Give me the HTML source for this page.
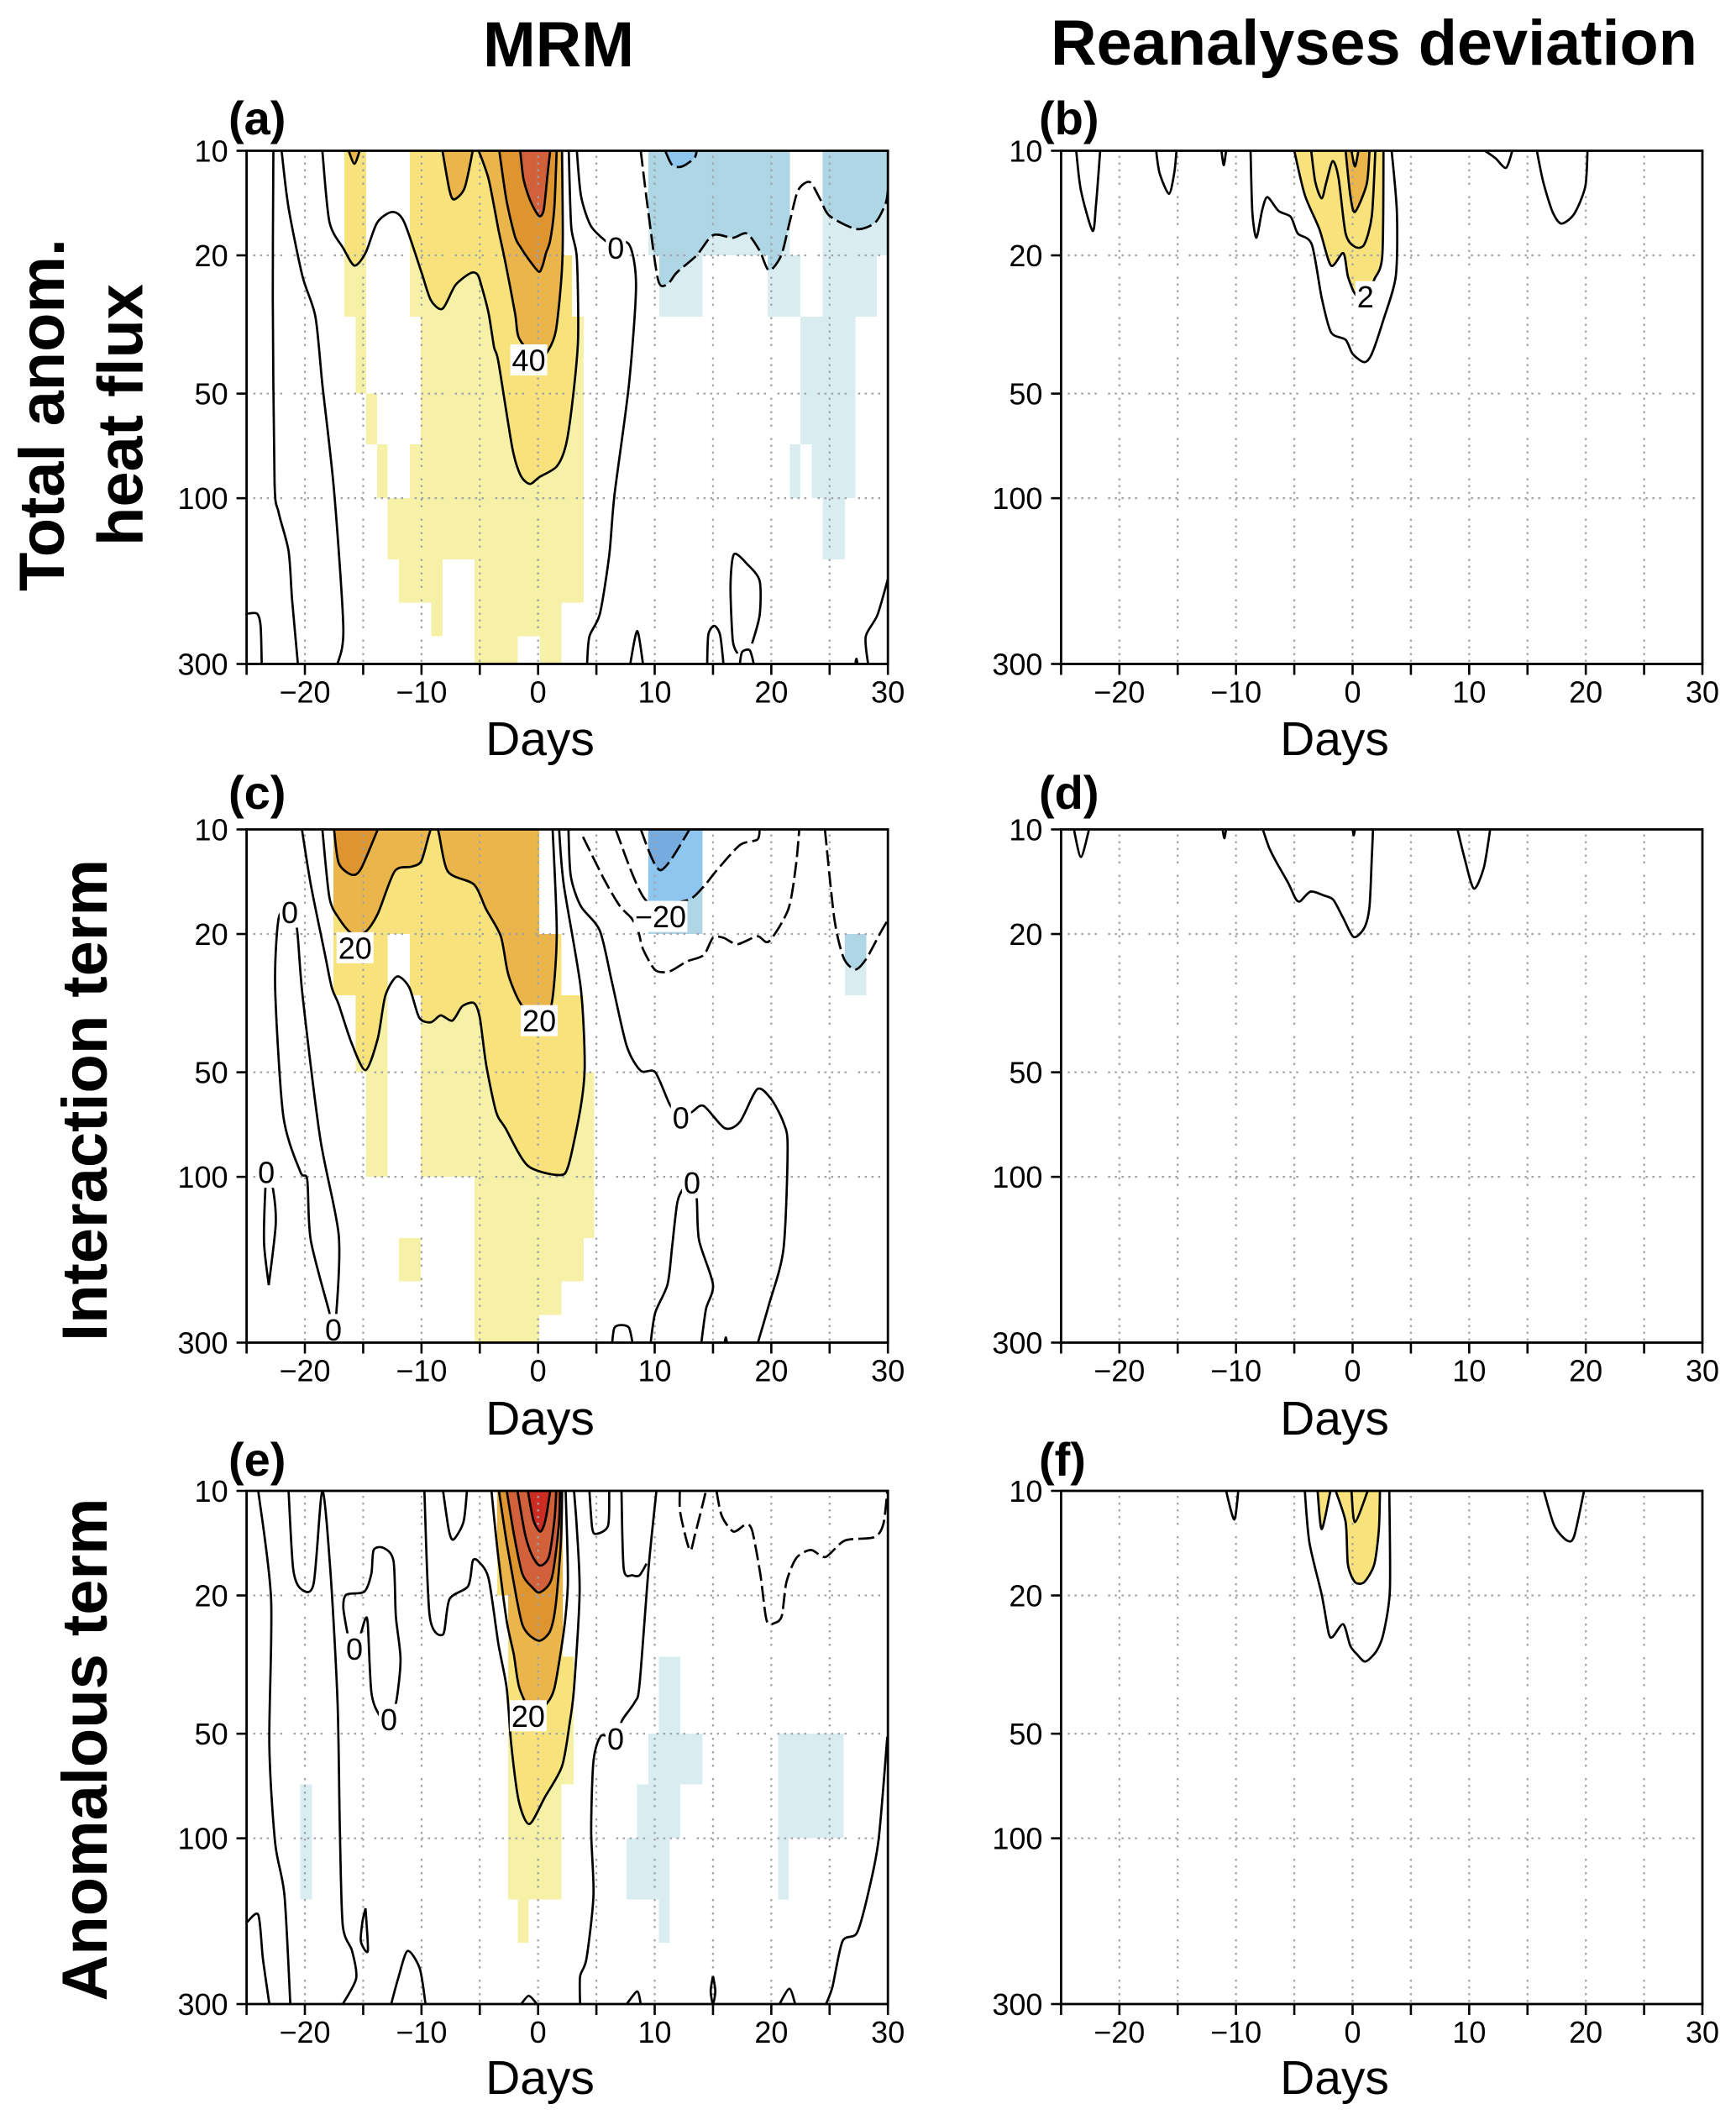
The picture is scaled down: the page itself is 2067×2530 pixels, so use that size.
<!DOCTYPE html>
<html lang="en">
<head>
<meta charset="utf-8">
<title>MRM and reanalyses deviation: heat flux composites</title>
<style>
html,body{margin:0;padding:0;background:#fff}
svg{display:block}
text{font-family:"Liberation Sans",sans-serif;fill:#000}
.head{font-weight:700;font-size:76px}
.plab{font-weight:700;font-size:56px}
.days{font-size:57px;text-anchor:middle}
.tick{font-size:36px}
</style>
</head>
<body>
<svg id="chart" xmlns="http://www.w3.org/2000/svg" width="2067" height="2530" viewBox="0 0 2067 2530">
<rect width="2067" height="2530" fill="#fff"/>
<g id="panels"></g>
<text class="head" x="665" y="79" text-anchor="middle" textLength="180" lengthAdjust="spacingAndGlyphs">MRM</text>
<text class="head" x="1636" y="77" text-anchor="middle" textLength="770" lengthAdjust="spacingAndGlyphs">Reanalyses deviation</text>
<text class="head" transform="translate(76,494) rotate(-90)" text-anchor="middle" textLength="420" lengthAdjust="spacingAndGlyphs">Total anom.</text>
<text class="head" transform="translate(169.5,494) rotate(-90)" text-anchor="middle" textLength="312" lengthAdjust="spacingAndGlyphs">heat flux</text>
<text class="head" transform="translate(127,1310) rotate(-90)" text-anchor="middle" textLength="574" lengthAdjust="spacingAndGlyphs">Interaction term</text>
<text class="head" transform="translate(127,2083) rotate(-90)" text-anchor="middle" textLength="599" lengthAdjust="spacingAndGlyphs">Anomalous term</text>
<text class="plab" x="272" y="160">(a)</text>
<text class="plab" x="1237" y="160">(b)</text>
<text class="plab" x="272" y="963">(c)</text>
<text class="plab" x="1237" y="963">(d)</text>
<text class="plab" x="272" y="1757">(e)</text>
<text class="plab" x="1237" y="1757">(f)</text>
<text class="days" x="643" y="899">Days</text>
<text class="days" x="1589" y="899">Days</text>
<text class="days" x="643" y="1708">Days</text>
<text class="days" x="1589" y="1708">Days</text>
<text class="days" x="643" y="2493">Days</text>
<text class="days" x="1589" y="2493">Days</text>
</svg>
<script>
// Axis values
const dayTickLabels=[-20,-10,0,10,20,30];
const dayTicks=[-25,-20,-15,-10,-5,0,5,10,15,20,25,30];
const dayGrid=[-20,-15,-10,-5,0,5,10,15,20,25];
const pressureTicks=[10,20,50,100,300];
const pressureGrid=[20,50,100];

// Significance spans: [pressure top, pressure bottom, day start, day end]
const aWarm=[[10,20,-16.6,-14.75],[10,20,-11,2.1],[20,30,-16.6,-14.75],[20,30,-11,2.9],[30,50,-15.65,-14.75],[30,50,-10.05,3.9],[50,70,-14.75,-13.8],[50,70,-10.05,3.9],[70,100,-13.8,-12.9],[70,100,-11,3.9],[100,150,-12.9,3.9],[150,200,-11.95,-8.2],[150,200,-5.45,3.9],[200,250,-9.15,-8.2],[200,250,-5.45,2],[250,300,-5.45,-1.75],[250,300,0.15,2]];
const aCold=[[10,20,9.45,21.6],[10,20,24.4,30],[20,30,10.4,14.1],[20,30,19.7,22.5],[20,30,24.4,29.05],[30,50,22.5,27.2],[50,70,22.5,27.2],[70,100,21.6,22.5],[70,100,23.45,27.2],[100,150,24.4,26.3]];
const cWarm=[[10,20,-17.55,0.1],[20,30,-17.55,-12.9],[20,30,-11,2],[30,50,-15.65,-12.9],[30,50,-10.05,3.9],[50,70,-14.75,-12.9],[50,70,-10.05,4.8],[70,100,-14.75,-12.9],[70,100,-10.05,4.8],[100,150,-5.45,4.8],[150,200,-11.95,-10.05],[150,200,-5.45,3.9],[200,250,-5.45,2],[250,300,-5.45,0.1]];
const cCold=[[10,20,9.45,14.1],[20,30,26.3,28.15]];
const eWarm=[[10,20,-3.52,2.12],[20,30,-2.56,2.12],[30,50,-2.56,3.05],[50,70,-2.56,3.05],[70,100,-2.56,2],[100,150,-2.56,2],[150,200,-1.75,-0.8]];
const eCold=[[70,100,-20.4,-19.4],[100,150,-20.4,-19.4],[30,50,10.35,12.2],[50,70,9.45,14.1],[70,100,8.5,12.2],[100,150,7.6,11.3],[150,200,10.35,11.3],[50,70,20.6,26.2],[70,100,20.6,26.2],[100,150,20.6,21.5]];

// Panel a contours: [day, pressure]
const aLine1=[[-22.7,10],[-22.75,26.5],[-22.6,90],[-22.25,110],[-21.4,142],[-21.1,195],[-20.6,300]];
const aLine2=[[-22,10],[-21.4,14.6],[-20.2,23],[-19.1,30],[-18.5,47],[-17.5,95],[-16.7,237],[-17.2,300]];
const aYellow=[[-18.5,10],[-17.9,16],[-16.7,19.1],[-15.75,21.4],[-14.8,19.7],[-13.8,16.1],[-12.5,15],[-11.5,16],[-10,22.4],[-9.2,26.9],[-8.2,28.5],[-7.1,24.4],[-5.8,22.5],[-5.2,22.7],[-4.87,24.4],[-4.24,29.4],[-3.78,36.7],[-3.4,40.6],[-2.2,71.9],[-1.5,86],[-0.7,91],[0.1,87],[1.6,81],[2.4,70],[3,51],[3.43,34.7],[3.32,20.3],[2.84,16.5],[2.63,10]];
const aGoldA=[[-8.2,10],[-7.6,13],[-7.2,13.8],[-6.3,12.8],[-5.6,10]];
const aGoldB=[[-16.25,10],[-15.75,10.9],[-15.3,10]];
const aGold=[[-5.09,10],[-4.24,12.07],[-3.41,16.8],[-2.8,21],[-1.97,29.4],[-1.62,34.7],[0,40],[0.9,37.4],[1.52,33],[1.97,24],[2.12,18.1],[2.05,10]];
const aOrange=[[-3.33,10],[-2.69,14],[-1.97,17.7],[-1.48,19],[-0.64,20.9],[0.08,22.3],[0.39,21.4],[0.68,19.7],[1.04,18.1],[1.4,14.5],[1.59,10]];
const aRed=[[-1.53,10],[-1.25,12.07],[-0.64,14],[0.08,15.4],[0.48,14.8],[0.8,11.8],[1.04,10]];
const aZero=[[3.32,10],[3.68,13.5],[4.5,16.4],[5.72,18.1],[6.1,18.3],[7.8,18.6],[8.4,24.4],[7.8,46.8],[6.55,98],[6.1,146],[5.3,215],[4.4,250],[4.2,300]];
const aBlue=[[8.8,10],[9.45,15],[10.3,23.6],[11.1,24.2],[11.9,22.4],[13.6,20],[15,17.5],[16.7,17.8],[17.9,17.3],[19,19.4],[19.8,22.1],[20.85,20],[21.6,15.9],[22.3,13],[23.3,12.3],[24.2,13.8],[25,15.4],[27.3,16.8],[28.9,16.1],[29.8,14.2],[30,13]];
const aBlueCore=[[10.9,10],[11.5,11],[12.35,11.1],[13.4,10.5],[13.6,10]];
const aCorner=[[-25,215],[-24.1,215],[-23.8,233],[-23.7,300]];
const aHillA=[[18.35,262],[19,217],[19,173],[17.95,155],[16.8,145],[16.5,179],[16.7,257],[17.1,280]];
const aHillB=[[17.3,300],[17.5,277],[18.15,274],[18.5,300]];
const aHillC=[[14.5,300],[14.6,247],[15.1,233],[15.6,247],[15.9,300]];
const aHillD=[[7.9,300],[8.5,241],[9,300]];
const aHillE=[[27.2,300],[27.3,290],[27.4,300]];
const aHillF=[[28.3,300],[28.1,250],[29.1,217],[30,171]];
const aLabels=[["40",-0.8,40],["0",6.67,19]];

// Panel b contours
const bSpikeA=[[-23.7,10],[-23.3,13],[-22.3,17],[-22,14.2],[-21.65,10]];
const bSpikeB=[[-16.85,10],[-16.55,11.6],[-15.75,13.3],[-15.3,11.6],[-15.1,10]];
const bSpikeC=[[-11.25,10],[-11.05,11],[-10.85,10]];
const bOuter=[[-8.75,10],[-8.6,15],[-8.25,17.8],[-7.75,14.8],[-7.3,13.6],[-6.35,14.9],[-5.3,15.5],[-4.7,17.3],[-3.5,18.6],[-2.65,26.5],[-1.85,33.3],[-0.6,35],[0,38.4],[1,40.6],[1.65,38.4],[2.65,30.6],[3.7,23],[3.8,15],[3.35,10]];
const bYellow=[[-5,10],[-4.1,13.4],[-2.85,16.8],[-1.85,21.4],[-0.8,19.7],[-0.4,23],[0.2,25.8],[1,27],[1.85,23.5],[2.55,20],[2.65,10]];
const bInner=[[-3.55,10],[-3.2,12.3],[-2.65,13.7],[-2.25,12.3],[-1.7,10.7],[-1.2,12],[-0.6,17.3],[0.2,18.9],[1,18.6],[1.65,15.4],[1.95,10]];
const bGold=[[-0.6,10],[-0.2,13.4],[0.2,15],[1.2,12.5],[1.45,10]];
const bTiny=[[-0.1,10],[0.2,11.1],[0.5,10]];
const bSpikeD=[[11.35,10],[12.25,10.5],[13.15,11.2],[13.7,10]];
const bSpikeE=[[15.8,10],[16.35,12.3],[17.15,15],[17.9,16.2],[19,15.2],[19.95,12.7],[20.15,10]];
const bLabels=[["2",1.1,26.3]];

// Panel c contours
const cYellow=[[-20.25,10],[-19.5,14.4],[-18.3,22.7],[-17.7,28.5],[-17.1,31.9],[-16,41.2],[-14.8,49.3],[-13.75,40],[-13.1,30.1],[-12.1,26.5],[-11.05,28.5],[-10.2,34.8],[-9.2,35.9],[-8.35,34.3],[-7.35,35.5],[-6.5,32.3],[-5.5,31.6],[-5,34.8],[-4.45,47.6],[-3.6,65],[-2.8,72.4],[-0.9,92.8],[1.8,98.8],[2.6,92.8],[3.65,63],[4,47.6],[3.65,28.5],[2.2,14.4],[1.8,10]];
const cGold=[[-18.5,10],[-17.9,15.7],[-17.1,18],[-16,19.9],[-14.8,19.7],[-13.75,17.5],[-12.3,13.2],[-10.85,12.8],[-10,12.3],[-9.2,10],[-8.6,10],[-7.75,13.2],[-5.5,14.4],[-4.45,17],[-3.2,20.3],[-2.55,26.2],[-1.45,31.9],[0.1,34.8],[1.15,31.9],[1.6,20],[1.25,10]];
const cOrange=[[-17.5,10],[-17.1,12.5],[-16,13.5],[-15.2,13],[-13.75,10]];
const cLoop=[[-21.4,17.3],[-22.25,18],[-22.55,28.5],[-21.85,66.8],[-20.4,96.6],[-19.8,102],[-19.5,152],[-17.9,246],[-17.6,277],[-17.3,246],[-17.1,147],[-18.7,77],[-20.2,30],[-20.7,19.1],[-21.4,17.3]];
const cZero=[[2.6,10],[2.8,13.6],[3.65,16.6],[5.3,19.6],[6.35,27.7],[7.6,42],[8.8,49.5],[10.05,50],[11.3,62],[12.25,67.5],[13.2,65],[14.2,62.5],[16,72.4],[17.3,69.5],[18.8,55.9],[20,59.8],[21.05,69.8],[21.4,82],[21.05,161],[19.8,233],[18.85,300]];
const cBump=[[6.35,300],[6.55,272],[7.15,267],[7.8,272],[8.1,300]];
const cHill=[[9.65,300],[10.05,246],[11.1,204],[11.5,158],[11.95,118],[12.55,107],[13.2,104],[13.6,115],[13.8,152],[15,204],[14.4,240],[14,300]];
const cTiny=[[16,300],[16.1,290],[16.2,300]];
const cEllipse=[[-23.1,205],[-23.5,155],[-23.4,110],[-23.2,97],[-22.7,110],[-22.5,137],[-23.1,205]];
const cBlueOuter=[[3.85,10.5],[5.7,14],[7,16.6],[8,18],[8.6,19.7],[9,22.1],[10.05,25.4],[11.3,25.6],[12.75,24],[14.2,23],[15,20.5],[15.9,20.5],[17.1,21.4],[18.8,20.3],[19.8,21],[21.45,17],[22.1,12.8],[22.4,10]];
const cBlueMid=[[6.65,10],[9.25,16],[12.75,16],[14.2,14.6],[15.25,13.2],[17.3,11.1],[18.8,10.7],[19,10]];
const cBlueCore=[[8.8,10],[10.5,13.1],[13,10]];
const cBlueRight=[[24.6,10],[25.4,18],[26.2,23.4],[27.2,25.3],[28.1,23.7],[29.3,20],[30,18.2]];
const cLabels=[["0",-21.3,17.3],["20",-15.7,21.9],["20",0.1,35.5],["\u221220",10.5,17.8],["0",12.25,67.5],["0",13.2,104],["0",-23.3,97],["0",-17.55,275]];

// Panel d contours
const dSpikeA=[[-23.9,10],[-23.3,12],[-22.6,10]];
const dSpikeB=[[-11.15,10],[-11,10.6],[-10.85,10]];
const dMain=[[-7.7,10],[-7.15,11.3],[-6.55,12.4],[-5.5,14.3],[-4.9,15.8],[-4.5,16.1],[-3.6,15.1],[-2.45,15.5],[-1.65,15.95],[-0.8,18],[0.1,20.4],[1,19.2],[1.45,16.7],[1.65,12],[1.75,10]];
const dTiny=[[0,10],[0.1,10.4],[0.2,10]];
const dSpikeC=[[9,10],[9.6,12.1],[10.4,14.8],[11.25,12.9],[11.8,10]];

// Panel e contours
const eLine1=[[-24,10],[-22.9,20.5],[-23.05,53.9],[-22.55,103],[-21.75,146],[-21.25,300]];
const eCorner=[[-25,175],[-24,166],[-23.6,222],[-23.05,300]];
const eLine2=[[-21.4,10],[-21,16.8],[-20.3,19.2],[-19.25,18.5],[-18.5,10],[-17.8,17.3],[-17.2,40.5],[-17,95],[-16.75,178],[-15.95,211],[-15.6,253],[-16.75,300]];
const eLoop=[[-16.35,25.7],[-16.7,21.7],[-16.45,19.9],[-14.9,19.5],[-14.3,17.3],[-14.1,14.8],[-13.25,14.6],[-12.4,15.9],[-12.2,22.9],[-11.8,30.6],[-12.2,41],[-12.9,45.5],[-13.65,44],[-14.3,38],[-14.6,24.3],[-14.8,23.3],[-15.2,25.7],[-15.75,28.5],[-16.35,25.7]];
const eYellow=[[-9.75,10],[-9.3,22.9],[-8.15,25.9],[-7.6,20.5],[-6,18.8],[-5.6,15.9],[-5.09,16],[-4.24,17.9],[-3.41,27.5],[-2.69,37],[-2.3,53.9],[-1.65,78.3],[-0.75,91],[0.6,76],[2.05,62],[2.7,46.8],[3.08,37],[3.56,19.7],[3.32,12.8],[3.08,10]];
const eGold=[[-4,10],[-3.41,15.5],[-2.69,23.7],[-2.08,29.6],[-1.6,37],[-0.4,44],[0.85,40.5],[1.4,37],[1.88,30],[2.31,23.7],[2.55,18.6],[2.5,14.1],[2.36,10]];
const eOrange=[[-3.36,10],[-2.69,14.1],[-1.84,20.4],[-1.36,24.2],[-0.76,26],[0.15,27],[1.04,25.3],[1.52,21.2],[1.95,14.1],[2.07,10]];
const eRust=[[-2.69,10],[-2.08,13.3],[-1.36,17.3],[-0.53,18.9],[0.15,19.6],[1.16,17.9],[1.76,12.8],[1.88,10]];
const eRustInner=[[-1.77,10],[-1.12,13.3],[-0.53,15.3],[0.15,16.4],[0.92,15.5],[1.4,12.15],[1.56,10]];
const eRed=[[-0.88,10],[-0.4,12.15],[0.19,13.1],[0.63,12.15],[1.04,10]];
const eZero=[[10.15,10],[9.5,16.3],[8.7,36],[8.3,40.5],[7.25,45.5],[6.55,51.5],[5.4,50.7],[4.75,60],[4.55,95],[4.75,146],[4.15,222],[3.6,250],[3.6,300]];
const eDipA=[[7.15,10],[7.35,16.8],[8.1,17.5],[8.7,17.5],[9.3,16.2]];
const eDipB=[[4.4,10],[4.64,12.8],[5,13.3],[6,12.6],[6.1,10]];
const eDipC=[[-8.15,10],[-7.65,13],[-7.25,13.8],[-6.4,12.3],[-6.1,10]];
const eDashA=[[12.15,10],[12.2,11.6],[13,14.8],[13.45,13.4],[14.4,10]];
const eDashB=[[15.3,10],[15.75,11.8],[16.75,13.1],[17.8,12.5],[18.35,13],[19.05,17.3],[19.6,23.6],[20.3,24],[20.9,22.9],[21.3,18.3],[22.15,15.6],[23.4,14.8],[24.65,15.5],[26.3,13.9],[28.8,13.6],[29.6,12.5],[29.95,10]];
const eHillA=[[-12.6,300],[-12,253],[-11.2,211],[-10.15,237],[-9.65,300]];
const eHillB=[[-1.45,300],[-0.8,284],[-0.1,300]];
const eHillC=[[7.6,300],[8.5,276],[8.8,300]];
const eEllipseA=[[15,249],[15.2,275],[15,300],[14.8,275],[15,249]];
const eEllipseB=[[-14.8,159],[-14.6,211],[-15.2,198],[-15.05,173],[-14.8,159]];
const eHillD=[[20.7,300],[21.55,271],[22.05,300]];
const eRight=[[24.7,300],[25.25,267],[26.1,198],[27.35,187],[28.35,142],[29.2,101],[29.95,51]];
const eLabels=[["0",-15.75,28.5],["0",-12.8,45.5],["20",-0.85,44.4],["0",6.65,51.6]];

// Panel f contours
const fSpikeA=[[-10.85,10],[-10.15,12.1],[-9.8,10]];
const fOuter=[[-4.1,10],[-3.7,14.1],[-2.65,19.9],[-2.05,25.7],[-1.7,26.3],[-0.8,24.2],[-0.2,27.9],[0.4,29.6],[1.1,31],[2.05,28.9],[2.65,25.7],[3.2,19.3],[3.15,10]];
const fYellow=[[-1.45,10],[-0.6,12.3],[-0.4,16.3],[0.2,18.3],[1,18.3],[1.85,16.3],[2.25,13],[2.35,10]];
const fDipA=[[-3,10],[-2.65,12.9],[-1.9,10]];
const fDipB=[[-0.1,10],[0.2,12.3],[1.3,10]];
const fSpikeB=[[16.4,10],[17.3,12.6],[18.4,13.9],[19,13.5],[19.85,10]];

const panels=[
 {id:'a',col:0,row:0,warm:aWarm,cold:aCold,
  fills:[[1,aYellow],[2,aGoldA],[2,aGoldB],[2,aGold],[3,aOrange],[4,aRed],[-1,aBlue],[-2,aBlueCore]],
  solid:[aLine1,aLine2,aYellow,aGoldA,aGoldB,aGold,aOrange,aRed,aZero,aCorner,aHillA,aHillB,aHillC,aHillD,aHillE,aHillF],
  dashed:[aBlue,aBlueCore],labels:aLabels},
 {id:'b',col:1,row:0,warm:[],cold:[],
  fills:[[1,bYellow],[2,bGold],[1,bTiny]],
  solid:[bSpikeA,bSpikeB,bSpikeC,bOuter,bYellow,bInner,bGold,bTiny,bSpikeD,bSpikeE],
  dashed:[],labels:bLabels},
 {id:'c',col:0,row:1,warm:cWarm,cold:cCold,
  fills:[[1,cYellow],[2,cGold],[3,cOrange],[-1,cBlueOuter],[-2,cBlueMid],[-3,cBlueCore],[-1,cBlueRight]],
  solid:[cYellow,cGold,cOrange,cLoop,cZero,cBump,cHill,cTiny,cEllipse],
  dashed:[cBlueOuter,cBlueMid,cBlueCore,cBlueRight],labels:cLabels},
 {id:'d',col:1,row:1,warm:[],cold:[],fills:[],
  solid:[dSpikeA,dSpikeB,dMain,dTiny,dSpikeC],dashed:[],labels:[]},
 {id:'e',col:0,row:2,warm:eWarm,cold:eCold,
  fills:[[1,eYellow],[2,eGold],[3,eOrange],[4,eRust],[4,eRustInner],[5,eRed]],
  solid:[eLine1,eCorner,eLine2,eLoop,eYellow,eGold,eOrange,eRust,eRustInner,eRed,eZero,eDipA,eDipB,eDipC,eHillA,eHillB,eHillC,eEllipseA,eEllipseB,eHillD,eRight],
  dashed:[eDashA,eDashB],labels:eLabels},
 {id:'f',col:1,row:2,warm:[],cold:[],
  fills:[[1,fYellow],[1,fDipA]],
  solid:[fSpikeA,fOuter,fYellow,fDipA,fDipB,fSpikeB],dashed:[],labels:[]}
];

// Style and layout constants
const levelColors={'1':'#F8E27C','2':'#EAB54B','3':'#DF952F','4':'#D2603A','5':'#CB2D22','-1':'#AED6E4','-2':'#8FC6F0','-3':'#76ABDF'};
const warmBase='#F6F1A7',coldBase='#D9ECF0';
const colLeft=[293.6,1263.4],rowTop=[179.5,987.5,1775],W=763.6,H=611;
const NS='http://www.w3.org/2000/svg';

function node(parent,tag,attrs){
  const n=document.createElementNS(NS,tag);
  for(const k in attrs)n.setAttribute(k,attrs[k]);
  parent.appendChild(n);
  return n;
}
function smoothPath(pts){
  let d='M'+pts[0][0].toFixed(1)+' '+pts[0][1].toFixed(1);
  for(let i=0;i<pts.length-1;i++){
    const p0=pts[Math.max(i-1,0)],p1=pts[i],p2=pts[i+1],p3=pts[Math.min(i+2,pts.length-1)];
    const k=1/7.5;
    d+=' C'+(p1[0]+(p2[0]-p0[0])*k).toFixed(1)+' '+(p1[1]+(p2[1]-p0[1])*k).toFixed(1)+' '+(p2[0]-(p3[0]-p1[0])*k).toFixed(1)+' '+(p2[1]-(p3[1]-p1[1])*k).toFixed(1)+' '+p2[0].toFixed(1)+' '+p2[1].toFixed(1);
  }
  return d;
}

const root=document.getElementById('panels');
panels.forEach(function(P){
  const left=colLeft[P.col],top=rowTop[P.row];
  const xScale=function(d){return left+(d+25)*W/55;};
  const yScale=function(p){return top+H*Math.log(p/10)/Math.log(30);};
  const toPx=function(c){return c.map(function(q){return [xScale(q[0]),yScale(q[1])];});};

  const g=node(root,'g',{});
  
  
  const defs=node(g,'defs',{});
  const plotClip=node(defs,'clipPath',{id:'plot-'+P.id});
  node(plotClip,'rect',{x:left,y:top,width:W,height:H});
  const hasMask=P.warm.length+P.cold.length>0;
  const maskClip=node(defs,'clipPath',{id:'mask-'+P.id});
  if(!hasMask)node(maskClip,'rect',{x:left,y:top,width:W,height:H});

  const plot=node(g,'g',{'clip-path':'url(#plot-'+P.id+')'});
  
  

  [[P.warm,warmBase,'warm'],[P.cold,coldBase,'cold']].forEach(function(set){
    set[0].forEach(function(s){
      const geom={x:xScale(s[2]),y:yScale(s[0]),width:xScale(s[3])-xScale(s[2]),height:yScale(s[1])-yScale(s[0])};
      const r=node(plot,'rect',Object.assign({fill:set[1],'shape-rendering':'crispEdges'},geom));
      
      
      node(maskClip,'rect',geom);
    });
  });

  const fillGroup=node(plot,'g',{'clip-path':'url(#mask-'+P.id+')'});
  P.fills.forEach(function(f){
    const px=toPx(f[1]);
    const closing=' L'+px[px.length-1][0].toFixed(1)+' '+top+' L'+px[0][0].toFixed(1)+' '+top+' Z';
    const a=node(fillGroup,'path',{d:smoothPath(px)+closing,fill:levelColors[String(f[0])]});
    
    
  });

  const gridDash='2.5 5.5 2.5 5.5 2.5 5.5 2.5 5.5 2.5 13.5';
  dayGrid.forEach(function(d){
    const l=node(plot,'line',{x1:xScale(d),x2:xScale(d),y1:top+6,y2:top+H,stroke:'#a0a4a8','stroke-width':2.2,'stroke-dasharray':gridDash});
    
    
  });
  pressureGrid.forEach(function(p){
    const l=node(plot,'line',{x1:left+8,x2:left+W-6,y1:yScale(p),y2:yScale(p),stroke:'#a0a4a8','stroke-width':2.2,'stroke-dasharray':gridDash});
    
    
  });

  P.solid.forEach(function(c){
    const l=node(plot,'path',{d:smoothPath(toPx(c)),fill:'none',stroke:'#000','stroke-width':2.7,'stroke-linejoin':'round'});
    
    
  });
  P.dashed.forEach(function(c){
    const l=node(plot,'path',{d:smoothPath(toPx(c)),fill:'none',stroke:'#000','stroke-width':2.7,'stroke-dasharray':'19 6'});
    
    
  });

  P.labels.forEach(function(L){
    const cx=xScale(L[1]),cy=yScale(L[2]);
    const w=L[0].length*20+4,h=37;
    const b=node(g,'rect',{x:cx-w/2,y:cy-h/2,width:w,height:h,fill:'#fff'});
    
    
    const t=node(g,'text',{x:cx,y:cy+13,'text-anchor':'middle','class':'tick'});
    t.textContent=L[0];
    
    
  });

  dayTicks.forEach(function(d){
    const l=node(g,'line',{x1:xScale(d),x2:xScale(d),y1:top+H,y2:top+H+13,stroke:'#000','stroke-width':2.6});
    
    
  });
  dayTickLabels.forEach(function(d){
    const t=node(g,'text',{x:xScale(d),y:top+H+46,'text-anchor':'middle','class':'tick'});
    t.textContent=(d<0?'\u2212':'')+Math.abs(d);
    
    
  });
  pressureTicks.forEach(function(p){
    const l=node(g,'line',{x1:left-12,x2:left,y1:yScale(p),y2:yScale(p),stroke:'#000','stroke-width':2.6});
    
    
    const t=node(g,'text',{x:left-22,y:yScale(p)+13,'text-anchor':'end','class':'tick'});
    t.textContent=String(p);
    
    
  });

  const frame=node(g,'rect',{x:left,y:top,width:W,height:H,fill:'none',stroke:'#000','stroke-width':2.8});
  
  
});
</script>
</body>
</html>
